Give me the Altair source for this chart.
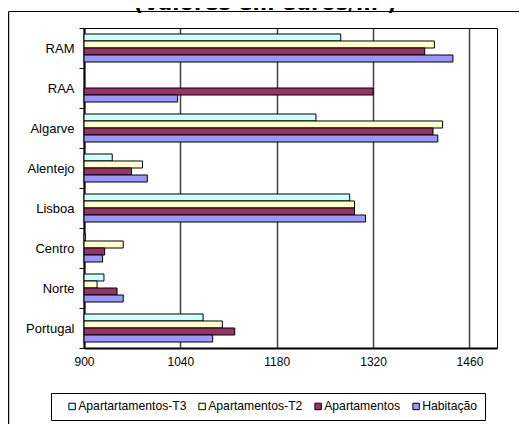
import altair as alt
import pandas as pd

TITLE = "(Valores em euros/m²)"
REGIOES = ["RAM", "RAA", "Algarve", "Alentejo", "Lisboa", "Centro", "Norte", "Portugal"]
SERIES = ["Apartartamentos-T3", "Apartamentos-T2", "Apartamentos", "Habitação"]
COLORS = ["#CCFFFF", "#FFFFCC", "#993366", "#9999FF"]

T3 = [1273, None, 1237, 941, 1286, 902, 929, 1073]
T2 = [1409, None, 1421, 985, 1293, 957, 919, 1101]
APART = [1395, 1320, 1407, 969, 1293, 930, 948, 1119]
HAB = [1436, 1036, 1414, 992, 1309, 927, 957, 1087]

X_TICKS = [900, 1040, 1180, 1320, 1460]
X_MIN, X_MAX = 900, 1500

rows = []
for serie, vals in zip(SERIES, [T3, T2, APART, HAB]):
    for reg, v in zip(REGIOES, vals):
        if v is not None:
            rows.append({"regiao": reg, "serie": serie, "valor": v})
df = pd.DataFrame(rows)

FONT = "Liberation Sans"

bars = alt.Chart(df).mark_bar(stroke="black", strokeWidth=1).encode(
    x=alt.X(
        "valor:Q",
        scale=alt.Scale(domain=[X_MIN, X_MAX], nice=False, zero=False),
        axis=alt.Axis(
            values=X_TICKS, title=None, grid=True, gridColor="#404040", gridWidth=1.5,
            ticks=False, labelPadding=8, labelFontSize=12, labelFont=FONT,
            labelColor="black", domainColor="black", domainWidth=2, format="d",
            labelFlush=False,
        ),
    ),
    x2=alt.datum(X_MIN),
    y=alt.Y(
        "regiao:N", sort=REGIOES,
        scale=alt.Scale(paddingInner=0, paddingOuter=0),
        axis=alt.Axis(
            title=None, tickBand="extent", tickSize=5, tickColor="black",
            labelPadding=5, labelFontSize=13, labelFont=FONT, labelColor="black",
            domainColor="black", domainWidth=2, grid=False,
        ),
    ),
    yOffset=alt.YOffset("serie:N", sort=SERIES,
                        scale=alt.Scale(paddingInner=0, paddingOuter=0.857)),
    color=alt.Color(
        "serie:N",
        scale=alt.Scale(domain=SERIES, range=COLORS),
        legend=alt.Legend(
            orient="none", direction="horizontal", legendX=-33, legendY=365,
            title=" ", titleOrient="left", titlePadding=8, titleFontSize=12,
            strokeColor="black", fillColor="white", padding=7,
            symbolType="square", symbolSize=42, symbolStrokeColor="black",
            symbolStrokeWidth=1, labelFontSize=12.2, labelFont=FONT, labelColor="black",
            labelOffset=0, columnPadding=9, columns=4,
        ),
    ),
)

title = alt.Chart(pd.DataFrame({"t": [TITLE]})).mark_text(
    font="DejaVu Sans", fontWeight="bold", fontSize=21, baseline="alphabetic",
    align="center", color="black",
).encode(text="t:N", x=alt.value(181), y=alt.value(-18))

frame = pd.DataFrame({"k": [0]})
frame_top = alt.Chart(frame).mark_rule(color="black", strokeWidth=1.2).encode(
    x=alt.value(-75.4), x2=alt.value(440), y=alt.value(-16.5)
)
frame_left = alt.Chart(frame).mark_rule(color="black", strokeWidth=1.2).encode(
    x=alt.value(-75.4), y=alt.value(-16.5), y2=alt.value(420)
)

chart = alt.layer(bars, title, frame_top, frame_left).properties(
    width=413, height=320,
    padding={"left": 76, "top": 20, "right": 22, "bottom": 90},
    autosize=alt.AutoSizeParams(type="none"),
).configure_view(stroke="black", strokeWidth=1)

chart.save("out.html", embed_options={"renderer": "svg", "actions": False})
